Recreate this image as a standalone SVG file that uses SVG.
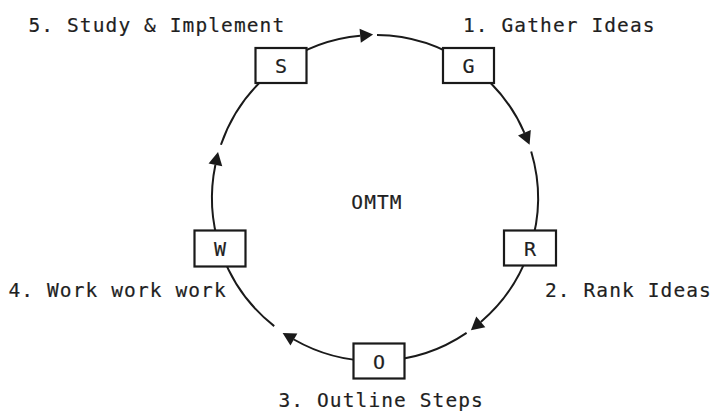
<svg xmlns="http://www.w3.org/2000/svg" width="712" height="412" viewBox="0 0 712 412">
  <style>
    .bg { fill: #ffffff; }
    .edge { fill: none; stroke: #1a1a1a; stroke-width: 2; }
    .box { fill: #ffffff; stroke: #1a1a1a; stroke-width: 2.2; }
    .key { font-family: "DejaVu Sans Mono", "Liberation Mono", monospace; font-size: 20px; fill: #1f1f1f; stroke: #1f1f1f; stroke-width: 0.2px; text-anchor: middle; }
    .label { font-family: "DejaVu Sans Mono", "Liberation Mono", monospace; font-size: 19.5px; letter-spacing: 1.1px; fill: #1f1f1f; stroke: #1f1f1f; stroke-width: 0.2px; }
  </style>
  <defs>
    <marker id="ah" markerUnits="userSpaceOnUse" markerWidth="15" markerHeight="15" refX="0" refY="7" orient="auto" overflow="visible">
      <path d="M0,0 L13,7 L0,14 z" fill="#1a1a1a"/>
    </marker>
  </defs>

  <rect class="bg" x="0" y="0" width="712" height="412"/>

  <!-- connectors: arcs of one circle (centre 375,198, r 163), arrowhead mid-way -->
  <g id="connectors">
    <path class="edge" d="M280.7,65.0 A163,163 0 0 1 360.2,35.7" marker-end="url(#ah)"/>
    <path class="edge" d="M377.0,35.01 A163,163 0 0 1 468.64,64.58"/>

    <path class="edge" d="M468.64,64.58 A163,163 0 0 1 524.4,132.8" marker-end="url(#ah)"/>
    <path class="edge" d="M531.2,151.43 A163,163 0 0 1 530.1,248.14"/>

    <path class="edge" d="M530.1,248.14 A163,163 0 0 1 480.8,321.9" marker-end="url(#ah)"/>
    <path class="edge" d="M466.6,332.8 A163,163 0 0 1 379.27,360.94"/>

    <path class="edge" d="M379.27,360.94 A163,163 0 0 1 293.9,339.5" marker-end="url(#ah)"/>
    <path class="edge" d="M274.2,326.1 A163,163 0 0 1 219.95,248.3"/>

    <path class="edge" d="M219.95,248.3 A163,163 0 0 1 215.4,164.8" marker-end="url(#ah)"/>
    <path class="edge" d="M220.93,144.75 A163,163 0 0 1 280.7,65.0"/>
  </g>

  <!-- step nodes -->
  <g id="node-g">
    <rect class="box" x="443" y="48" width="51" height="35"/>
    <text class="key" x="468.5" y="73">G</text>
  </g>
  <g id="node-r">
    <rect class="box" x="504" y="230.5" width="52" height="35"/>
    <text class="key" x="530" y="255.5">R</text>
  </g>
  <g id="node-o">
    <rect class="box" x="353.5" y="343.5" width="51" height="35"/>
    <text class="key" x="379" y="368.5">O</text>
  </g>
  <g id="node-w">
    <rect class="box" x="194.5" y="230.5" width="51" height="36"/>
    <text class="key" x="220" y="256">W</text>
  </g>
  <g id="node-s">
    <rect class="box" x="255.5" y="48" width="51" height="35"/>
    <text class="key" x="281" y="73">S</text>
  </g>

  <!-- centre title and step captions -->
  <g id="title">
    <text class="label" x="377" y="209" text-anchor="middle">OMTM</text>
  </g>
  <g id="captions">
    <text class="label" x="28.5" y="31.5">5. Study &amp; Implement</text>
    <text class="label" x="463" y="31.5">1. Gather Ideas</text>
    <text class="label" x="8.5" y="297">4. Work work work</text>
    <text class="label" x="545" y="297">2. Rank Ideas</text>
    <text class="label" x="278.5" y="407">3. Outline Steps</text>
  </g>
</svg>
